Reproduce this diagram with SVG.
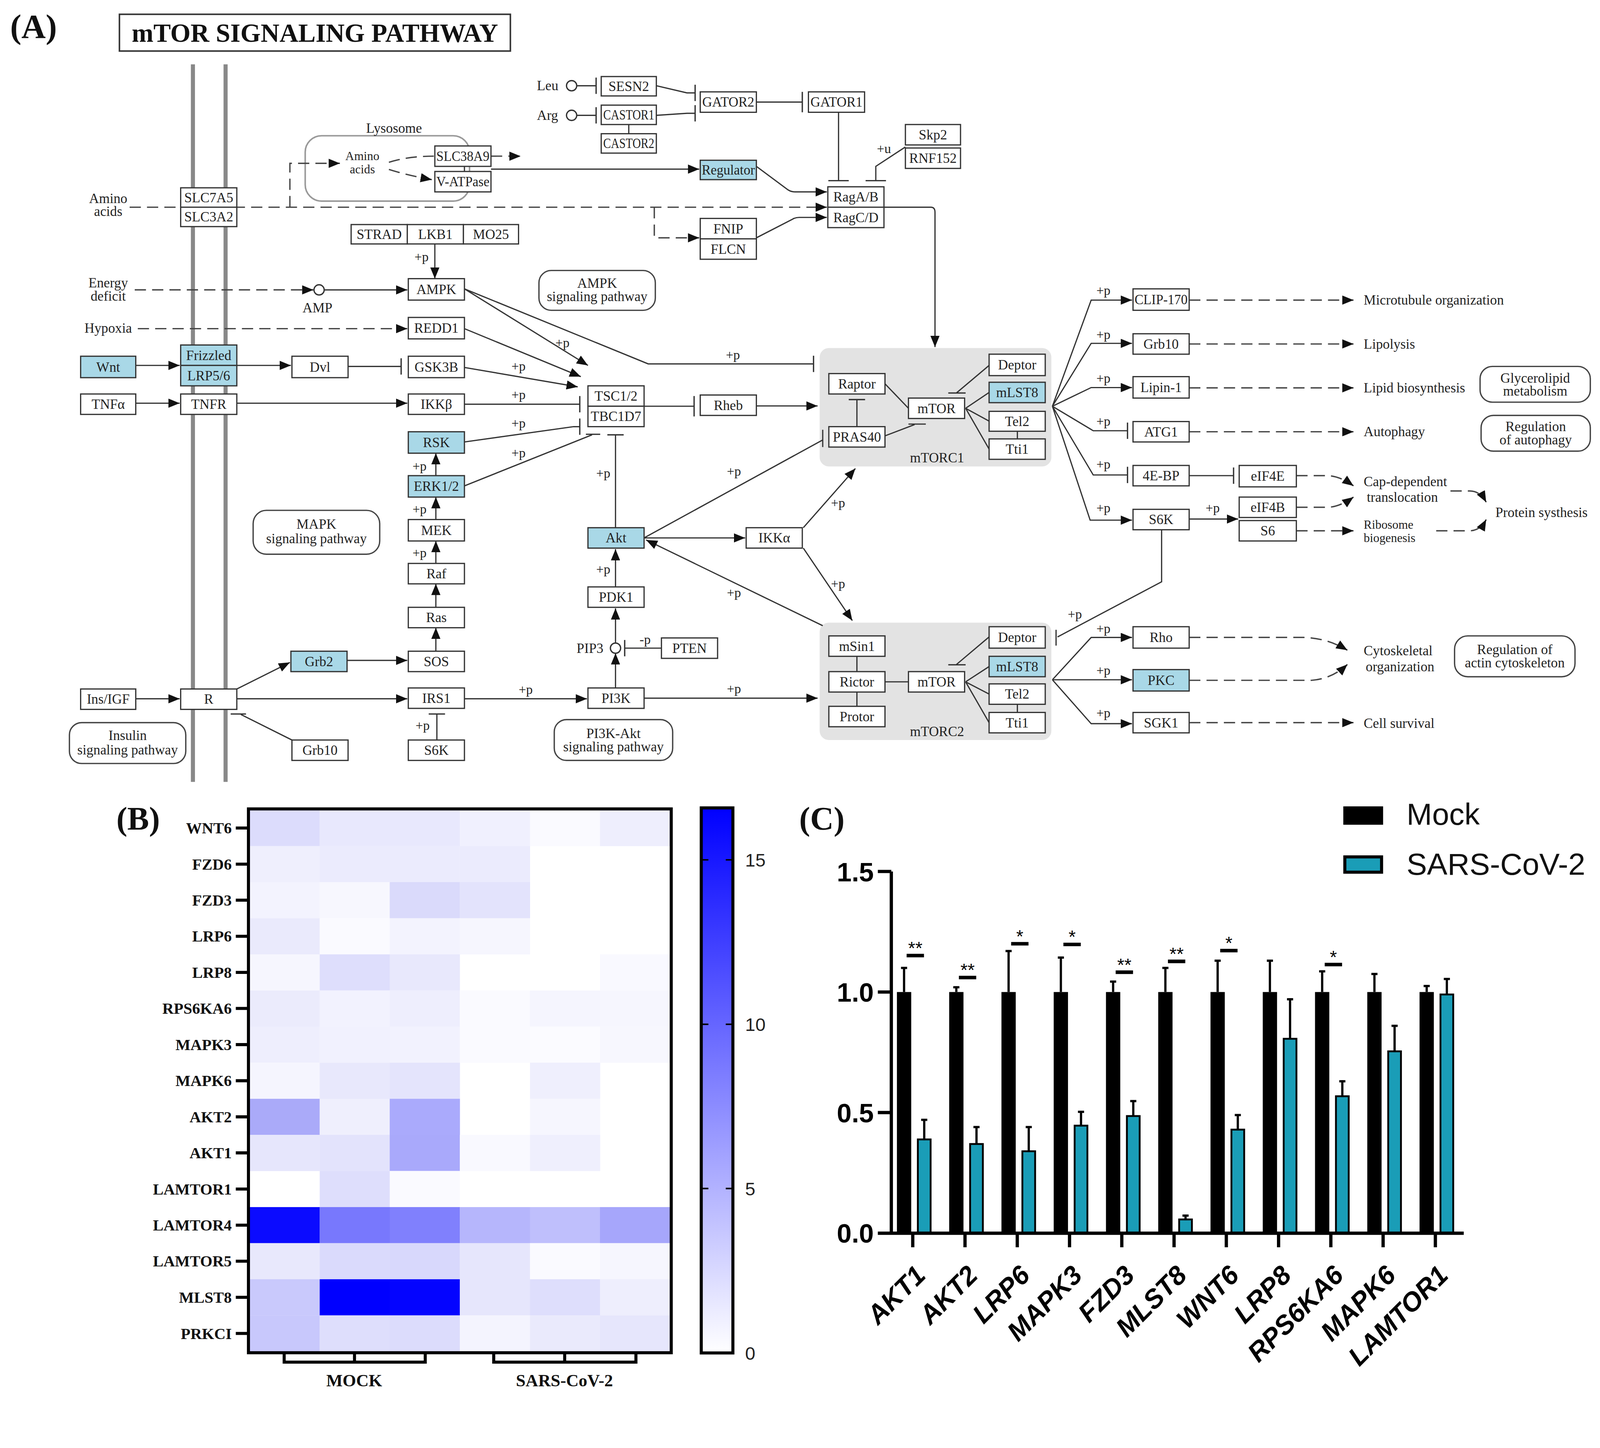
<svg xmlns="http://www.w3.org/2000/svg" width="4249" height="3708" viewBox="0 0 4249 3708">
<defs>
<style>
.b{fill:#fff;stroke:#333;stroke-width:1.2}
.hl{fill:#a9d8e7}
.cx{fill:#e3e3e3}
.pm{fill:#fff;stroke:#444;stroke-width:1.3}
.t{font-family:"Liberation Serif","Times New Roman",serif;font-size:13.5px;fill:#222;text-anchor:middle}
.s{text-anchor:start}
.p{font-size:13px}
.sm{font-size:12px}
.c{fill:none;stroke:#333;stroke-width:1.2}
.d{fill:none;stroke:#444;stroke-width:1.3;stroke-dasharray:11 6}
.a{marker-end:url(#arr)}
.i{marker-end:url(#bar)}
.iL{marker-end:url(#barL)}
.hb{font-family:"Liberation Serif","Times New Roman",serif;font-weight:bold;fill:#111}
.ax{fill:none;stroke:#000;stroke-width:3.2}
.sans{font-family:"Liberation Sans",Arial,sans-serif}
.mk{fill:#000}
.tl{fill:#1a9db7;stroke:#000;stroke-width:1.8}
.eb{fill:none;stroke:#000;stroke-width:2.2}
.sg{fill:none;stroke:#000;stroke-width:3.5}
</style>
<marker id="arr" markerUnits="userSpaceOnUse" markerWidth="11" markerHeight="9" viewBox="0 0 11 9" refX="11" refY="4.5" orient="auto"><path d="M0,0L11,4.5L0,9z" fill="#111"/></marker>
<marker id="bar" markerUnits="userSpaceOnUse" markerWidth="3" markerHeight="18" viewBox="-1.5 -9 3 18" refX="0" refY="0" orient="auto"><path d="M0,-8V8" stroke="#333" stroke-width="1.3"/></marker>
<marker id="barL" markerUnits="userSpaceOnUse" markerWidth="3" markerHeight="22" viewBox="-1.5 -11 3 22" refX="0" refY="0" orient="auto"><path d="M0,-10V10" stroke="#333" stroke-width="1.3"/></marker>
<linearGradient id="cbar" x1="0" y1="0" x2="0" y2="1"><stop offset="0" stop-color="#0000ff"/><stop offset="1" stop-color="#ffffff"/></linearGradient>
</defs>
<rect width="4249" height="3708" fill="#fff"/>
<g transform="scale(2.6131 2.6138)">
<text class="hb" x="10" y="37" font-size="33">(A)</text>
<g id="title"><rect x="117" y="14" width="383" height="36" fill="#fff" stroke="#333" stroke-width="1.5"/><text class="hb" x="308.5" y="41" font-size="25.5" text-anchor="middle">mTOR SIGNALING PATHWAY</text></g>
<g id="membrane" stroke="#888" stroke-width="4"><path d="M189,63V766M221,63V766"/></g>
<g id="lysosome"><rect x="299" y="133" width="161" height="64" rx="16" fill="none" stroke="#999" stroke-width="1.5"/><text class="t" x="386" y="130">Lysosome</text></g>
<g id="mTORC1"><rect class="cx" x="803" y="341" width="227" height="116" rx="9"/><text class="t" x="918" y="453">mTORC1</text></g>
<g id="mTORC2"><rect class="cx" x="803" y="610" width="227" height="115" rx="9"/><text class="t" x="918" y="721">mTORC2</text></g>
<g id="connectors">
<path class="d a" d="M127,203H810"/>
<path class="d a" d="M284,203V160H333"/>
<path class="d" d="M381,159Q400,153 425,153"/>
<path class="d a" d="M381,166Q400,172 423,176"/>
<path class="d a" d="M481,153H510"/>
<path class="c" d="M455,163V168"/>
<path class="c a" d="M481,165.7H685"/>
<path class="d a" d="M641,203V233H685"/>
<path class="c a" d="M741,163L772,186Q775,188 779,188H810"/>
<path class="c a" d="M741,233L776,215Q779,213 783,213H810"/>
<path class="c a" d="M866,203H912Q916,203 916,208V340"/>
<path class="c i" d="M565,84H584"/>
<path class="c i" d="M565,113H584"/>
<path class="c" d="M616,122V131"/>
<path class="c i" d="M643,84L673,91H681"/>
<path class="c i" d="M643,113L673,111H681"/>
<path class="c iL" d="M741,100H786"/>
<path class="c iL" d="M821.5,110V177"/>
<path class="c iL" d="M887,144L858,163V177"/>
<path class="c i" d="M455,283L635,356.5H797"/>
<path class="c a" d="M455,283L576,358"/>
<path class="c a" d="M455,322L569,369"/>
<path class="c a" d="M455,360L566,379"/>
<path class="c i" d="M455,396H568"/>
<path class="c i" d="M455,433L562,418H568"/>
<path class="c" d="M455,476L580,426M574,425.5H588"/>
<path class="c i" d="M603,517V426"/>
<path class="c iL" d="M631,398H680"/>
<path class="c a" d="M741,397.7H801"/>
<path class="c a" d="M133,358H176"/>
<path class="c a" d="M232,358H285"/>
<path class="c i" d="M341,359H393"/>
<path class="c a" d="M133,395H176"/>
<path class="c a" d="M232,395H399"/>
<path class="c a" d="M426,239V273"/>
<path class="d a" d="M132,284H307"/>
<circle cx="312.6" cy="284" r="5" fill="#fff" stroke="#333" stroke-width="1.3"/>
<path class="c a" d="M318,284H399"/>
<path class="d a" d="M135,322H399"/>
<path class="c a" d="M427,466V444"/>
<path class="c a" d="M427,509V487"/>
<path class="c a" d="M427,552V530"/>
<path class="c a" d="M427,595V572"/>
<path class="c a" d="M427,638V615"/>
<path class="c a" d="M340,647H399"/>
<path class="c a" d="M232,675L284,649"/>
<path class="c a" d="M133,684.6H176"/>
<path class="c a" d="M232,684.6H399"/>
<path class="c i" d="M428,725V699.5"/>
<path class="c" d="M286,725L236,700M226,699.5H241"/>
<path class="c a" d="M455,684.6H575"/>
<path class="c a" d="M603,674V640"/>
<circle cx="603" cy="635" r="5" fill="#fff" stroke="#333" stroke-width="1.3"/>
<path class="c a" d="M603,630V596"/>
<path class="c a" d="M603,575V538"/>
<path class="c i" d="M648,635H612"/>
<path class="c a" d="M631,527H730"/>
<path class="c" d="M631,527L806,431M806,421V438"/>
<path class="c a" d="M806,613L633,529"/>
<path class="c a" d="M787,517L838,459"/>
<path class="c a" d="M787,537L835,608"/>
<path class="c a" d="M631,684H801"/>
<path class="c" d="M867,376L890,400"/>
<path class="c" d="M867,427L896,416M890,415.5H907"/>
<path class="c i" d="M839.5,418V391.5"/>
<path class="c" d="M969,358L937,385M929,385H946"/>
<path class="c" d="M946,400L969,384.5M946,400L969,412.6M946,400L969,440"/>
<path class="c" d="M996.7,422.5V430"/>
<path class="c" d="M839.5,643V658M839.5,678V692M867,668H890"/>
<path class="c" d="M969,624L937,651M929,651.3H946"/>
<path class="c" d="M946,668L969,653M946,668L969,680M946,668L969,708"/>
<path class="c" d="M996.7,690V698"/>
<path class="c a" d="M1031,398L1069,294H1109"/>
<path class="c a" d="M1031,398L1069,336.4H1109"/>
<path class="c a" d="M1031,398L1069,379.7H1109"/>
<path class="c i" d="M1031,398L1071,422H1104.6"/>
<path class="c i" d="M1031,398L1071,465.3H1104.6"/>
<path class="c a" d="M1031,398L1068,509.6H1109"/>
<path class="c i" d="M1165,466H1208.5"/>
<path class="c a" d="M1165,508.5H1213"/>
<path class="c" d="M1138,519V570L1036,624M1034.6,617V632.5"/>
<path class="c a" d="M1031,666L1069,624.5H1109"/>
<path class="c a" d="M1031,666H1109"/>
<path class="c a" d="M1031,666L1069,709H1109"/>
<path class="d a" d="M1165,294H1326"/>
<path class="d a" d="M1165,337H1326"/>
<path class="d a" d="M1165,380H1326"/>
<path class="d a" d="M1165,423H1326"/>
<path class="d a" d="M1270,466H1300Q1312,466 1326,476"/>
<path class="d a" d="M1270,497H1300Q1312,497 1326,487"/>
<path class="d a" d="M1270,520H1326"/>
<path class="d a" d="M1421,481H1440Q1450,481 1456,492"/>
<path class="d a" d="M1407,520H1440Q1450,520 1456,509"/>
<path class="d a" d="M1165,624.5H1277Q1300,625 1320,637"/>
<path class="d a" d="M1165,666.5H1285Q1305,665 1320,651"/>
<path class="d a" d="M1165,708H1326"/>
</g>
<g id="n-slc7a5"><rect class="b" x="177" y="184" width="55" height="19"/><text class="t" x="204.5" y="198.1">SLC7A5</text></g>
<g id="n-slc3a2"><rect class="b" x="177" y="203" width="55" height="19"/><text class="t" x="204.5" y="217.1">SLC3A2</text></g>
<g id="n-sesn2"><rect class="b" x="589" y="75" width="54" height="19"/><text class="t" x="616" y="89.1">SESN2</text></g>
<g id="n-castor1"><rect class="b" x="589" y="103" width="54" height="19"/><text class="t" x="616" y="117.1" textLength="50" lengthAdjust="spacingAndGlyphs">CASTOR1</text></g>
<g id="n-castor2"><rect class="b" x="589" y="131" width="54" height="19"/><text class="t" x="616" y="145.1" textLength="50" lengthAdjust="spacingAndGlyphs">CASTOR2</text></g>
<g id="n-gator2"><rect class="b" x="686" y="90" width="55" height="20"/><text class="t" x="713.5" y="104.6" textLength="51" lengthAdjust="spacingAndGlyphs">GATOR2</text></g>
<g id="n-gator1"><rect class="b" x="792" y="90" width="55" height="20"/><text class="t" x="819.5" y="104.6" textLength="51" lengthAdjust="spacingAndGlyphs">GATOR1</text></g>
<g id="n-skp2"><rect class="b" x="887" y="122" width="54" height="20"/><text class="t" x="914" y="136.6">Skp2</text></g>
<g id="n-rnf152"><rect class="b" x="887" y="145" width="54" height="20"/><text class="t" x="914" y="159.6">RNF152</text></g>
<g id="n-regulator"><rect class="b hl" x="686" y="157" width="55" height="19"/><text class="t" x="713.5" y="171.1" textLength="52" lengthAdjust="spacingAndGlyphs">Regulator</text></g>
<g id="n-ragab"><rect class="b" x="811" y="183" width="55" height="20"/><text class="t" x="838.5" y="197.6">RagA/B</text></g>
<g id="n-ragcd"><rect class="b" x="811" y="203" width="55" height="20"/><text class="t" x="838.5" y="217.6">RagC/D</text></g>
<g id="n-fnip"><rect class="b" x="686" y="214" width="55" height="20"/><text class="t" x="713.5" y="228.6">FNIP</text></g>
<g id="n-flcn"><rect class="b" x="686" y="234" width="55" height="20"/><text class="t" x="713.5" y="248.6">FLCN</text></g>
<g id="n-slc38a9"><rect class="b" x="426" y="143" width="55" height="20"/><text class="t" x="453.5" y="157.6" textLength="52" lengthAdjust="spacingAndGlyphs">SLC38A9</text></g>
<g id="n-vatpase"><rect class="b" x="426" y="168" width="55" height="20"/><text class="t" x="453.5" y="182.6" textLength="52" lengthAdjust="spacingAndGlyphs">V-ATPase</text></g>
<g id="n-strad"><rect class="b" x="344" y="220" width="55" height="19"/><text class="t" x="371.5" y="234.1">STRAD</text></g>
<g id="n-lkb1"><rect class="b" x="399" y="220" width="55" height="19"/><text class="t" x="426.5" y="234.1">LKB1</text></g>
<g id="n-mo25"><rect class="b" x="454" y="220" width="54" height="19"/><text class="t" x="481" y="234.1">MO25</text></g>
<g id="n-ampk"><rect class="b" x="400" y="273" width="55" height="21"/><text class="t" x="427.5" y="288.1">AMPK</text></g>
<g id="n-redd1"><rect class="b" x="400" y="311" width="55" height="21"/><text class="t" x="427.5" y="326.1">REDD1</text></g>
<g id="n-wnt"><rect class="b hl" x="79" y="349" width="54" height="21"/><text class="t" x="106" y="364.1">Wnt</text></g>
<g id="n-frizzled"><rect class="b hl" x="177" y="338" width="55" height="20"/><text class="t" x="204.5" y="352.6">Frizzled</text></g>
<g id="n-lrp56"><rect class="b hl" x="177" y="358" width="55" height="20"/><text class="t" x="204.5" y="372.6">LRP5/6</text></g>
<g id="n-dvl"><rect class="b" x="286" y="349" width="55" height="21"/><text class="t" x="313.5" y="364.1">Dvl</text></g>
<g id="n-gsk3b"><rect class="b" x="400" y="349" width="55" height="21"/><text class="t" x="427.5" y="364.1">GSK3B</text></g>
<g id="n-tnfa"><rect class="b" x="79" y="386" width="54" height="20"/><text class="t" x="106" y="400.6">TNFα</text></g>
<g id="n-tnfr"><rect class="b" x="177" y="386" width="55" height="20"/><text class="t" x="204.5" y="400.6">TNFR</text></g>
<g id="n-ikkb"><rect class="b" x="400" y="386" width="55" height="20"/><text class="t" x="427.5" y="400.6">IKKβ</text></g>
<g id="n-rsk"><rect class="b hl" x="400" y="423" width="55" height="21"/><text class="t" x="427.5" y="438.1">RSK</text></g>
<g id="n-erk"><rect class="b hl" x="400" y="466" width="55" height="21"/><text class="t" x="427.5" y="481.1">ERK1/2</text></g>
<g id="n-mek"><rect class="b" x="400" y="509" width="55" height="21"/><text class="t" x="427.5" y="524.1">MEK</text></g>
<g id="n-raf"><rect class="b" x="400" y="552" width="55" height="20"/><text class="t" x="427.5" y="566.6">Raf</text></g>
<g id="n-ras"><rect class="b" x="400" y="595" width="55" height="20"/><text class="t" x="427.5" y="609.6">Ras</text></g>
<g id="n-sos"><rect class="b" x="400" y="638" width="55" height="20"/><text class="t" x="427.5" y="652.6">SOS</text></g>
<g id="n-grb2"><rect class="b hl" x="285" y="638" width="55" height="20"/><text class="t" x="312.5" y="652.6">Grb2</text></g>
<g id="n-insigf"><rect class="b" x="79" y="675" width="54" height="20"/><text class="t" x="106" y="689.6">Ins/IGF</text></g>
<g id="n-r"><rect class="b" x="177" y="675" width="55" height="20"/><text class="t" x="204.5" y="689.6">R</text></g>
<g id="n-irs1"><rect class="b" x="400" y="674" width="55" height="20"/><text class="t" x="427.5" y="688.6">IRS1</text></g>
<g id="n-s6k-low"><rect class="b" x="400" y="725" width="55" height="20"/><text class="t" x="427.5" y="739.6">S6K</text></g>
<g id="n-grb10-low"><rect class="b" x="286" y="725" width="55" height="20"/><text class="t" x="313.5" y="739.6">Grb10</text></g>
<g id="n-tsc12"><rect class="b" x="576" y="378" width="55" height="20"/><text class="t" x="603.5" y="392.6">TSC1/2</text></g>
<g id="n-tbc1d7"><rect class="b" x="576" y="398" width="55" height="20"/><text class="t" x="603.5" y="412.6">TBC1D7</text></g>
<g id="n-rheb"><rect class="b" x="686" y="387" width="55" height="20"/><text class="t" x="713.5" y="401.6">Rheb</text></g>
<g id="n-akt"><rect class="b hl" x="576" y="517" width="55" height="20"/><text class="t" x="603.5" y="531.6">Akt</text></g>
<g id="n-ikka"><rect class="b" x="731" y="517" width="55" height="20"/><text class="t" x="758.5" y="531.6">IKKα</text></g>
<g id="n-pdk1"><rect class="b" x="576" y="575" width="55" height="20"/><text class="t" x="603.5" y="589.6">PDK1</text></g>
<g id="n-pten"><rect class="b" x="648" y="625" width="55" height="20"/><text class="t" x="675.5" y="639.6">PTEN</text></g>
<g id="n-pi3k"><rect class="b" x="576" y="674" width="55" height="20"/><text class="t" x="603.5" y="688.6">PI3K</text></g>
<g id="n-raptor"><rect class="b" x="812" y="366" width="55" height="20"/><text class="t" x="839.5" y="380.6">Raptor</text></g>
<g id="n-pras40"><rect class="b" x="812" y="418" width="55" height="20"/><text class="t" x="839.5" y="432.6">PRAS40</text></g>
<g id="n-mtor1"><rect class="b" x="890" y="390" width="55" height="20"/><text class="t" x="917.5" y="404.6">mTOR</text></g>
<g id="n-deptor1"><rect class="b" x="969" y="347" width="55" height="21"/><text class="t" x="996.5" y="362.1">Deptor</text></g>
<g id="n-mlst8-1"><rect class="b hl" x="969" y="374.5" width="55" height="20"/><text class="t" x="996.5" y="389.1">mLST8</text></g>
<g id="n-tel2-1"><rect class="b" x="969" y="403" width="55" height="19.5"/><text class="t" x="996.5" y="417.3">Tel2</text></g>
<g id="n-tti1-1"><rect class="b" x="969" y="430" width="55" height="20"/><text class="t" x="996.5" y="444.6">Tti1</text></g>
<g id="n-msin1"><rect class="b" x="812" y="623" width="55" height="20"/><text class="t" x="839.5" y="637.6">mSin1</text></g>
<g id="n-rictor"><rect class="b" x="812" y="658" width="55" height="20"/><text class="t" x="839.5" y="672.6">Rictor</text></g>
<g id="n-protor"><rect class="b" x="812" y="692" width="55" height="20"/><text class="t" x="839.5" y="706.6">Protor</text></g>
<g id="n-mtor2"><rect class="b" x="890" y="658" width="55" height="20"/><text class="t" x="917.5" y="672.6">mTOR</text></g>
<g id="n-deptor2"><rect class="b" x="969" y="614" width="55" height="21"/><text class="t" x="996.5" y="629.1">Deptor</text></g>
<g id="n-mlst8-2"><rect class="b hl" x="969" y="643" width="55" height="20"/><text class="t" x="996.5" y="657.6">mLST8</text></g>
<g id="n-tel2-2"><rect class="b" x="969" y="670" width="55" height="20"/><text class="t" x="996.5" y="684.6">Tel2</text></g>
<g id="n-tti1-2"><rect class="b" x="969" y="698" width="55" height="20"/><text class="t" x="996.5" y="712.6">Tti1</text></g>
<g id="n-clip170"><rect class="b" x="1110" y="283" width="55" height="21"/><text class="t" x="1137.5" y="298.1" textLength="52" lengthAdjust="spacingAndGlyphs">CLIP-170</text></g>
<g id="n-grb10-r"><rect class="b" x="1110" y="327" width="55" height="20"/><text class="t" x="1137.5" y="341.6">Grb10</text></g>
<g id="n-lipin1"><rect class="b" x="1110" y="369" width="55" height="21"/><text class="t" x="1137.5" y="384.1">Lipin-1</text></g>
<g id="n-atg1"><rect class="b" x="1110" y="413" width="55" height="20"/><text class="t" x="1137.5" y="427.6">ATG1</text></g>
<g id="n-4ebp"><rect class="b" x="1110" y="456" width="55" height="20"/><text class="t" x="1137.5" y="470.6">4E-BP</text></g>
<g id="n-s6k-r"><rect class="b" x="1110" y="499" width="55" height="20"/><text class="t" x="1137.5" y="513.6">S6K</text></g>
<g id="n-eif4e"><rect class="b" x="1214" y="456" width="56" height="21"/><text class="t" x="1242" y="471.1">eIF4E</text></g>
<g id="n-eif4b"><rect class="b" x="1214" y="487" width="56" height="20"/><text class="t" x="1242" y="501.6">eIF4B</text></g>
<g id="n-s6"><rect class="b" x="1214" y="510" width="56" height="20"/><text class="t" x="1242" y="524.6">S6</text></g>
<g id="n-rho"><rect class="b" x="1110" y="614" width="55" height="21"/><text class="t" x="1137.5" y="629.1">Rho</text></g>
<g id="n-pkc"><rect class="b hl" x="1110" y="656" width="55" height="21"/><text class="t" x="1137.5" y="671.1">PKC</text></g>
<g id="n-sgk1"><rect class="b" x="1110" y="698" width="55" height="20"/><text class="t" x="1137.5" y="712.6">SGK1</text></g>
<g id="map-ampk"><rect class="pm" x="528" y="265" width="114" height="39" rx="12"/><text class="t" x="585" y="282">AMPK</text><text class="t" x="585" y="295">signaling pathway</text></g>
<g id="map-mapk"><rect class="pm" x="248" y="500" width="124" height="43" rx="13"/><text class="t" x="310" y="518">MAPK</text><text class="t" x="310" y="532">signaling pathway</text></g>
<g id="map-insulin"><rect class="pm" x="68" y="708" width="114" height="40" rx="12"/><text class="t" x="125" y="725">Insulin</text><text class="t" x="125" y="739">signaling pathway</text></g>
<g id="map-pi3k"><rect class="pm" x="543" y="705" width="116" height="40" rx="12"/><text class="t" x="601" y="723">PI3K-Akt</text><text class="t" x="601" y="736">signaling pathway</text></g>
<g id="map-glycero"><rect class="pm" x="1450" y="359" width="108" height="35" rx="12"/><text class="t" x="1504" y="375">Glycerolipid</text><text class="t" x="1504" y="387.5">metabolism</text></g>
<g id="map-autophagy"><rect class="pm" x="1451" y="407" width="107" height="35" rx="12"/><text class="t" x="1504.5" y="422.5">Regulation</text><text class="t" x="1504.5" y="435.5">of autophagy</text></g>
<g id="map-actin"><rect class="pm" x="1425" y="623" width="118" height="40" rx="13"/><text class="t" x="1484" y="641">Regulation of</text><text class="t" x="1484" y="654">actin cytoskeleton</text></g>
<g id="labels">
<text class="t" x="106" y="199">Amino</text><text class="t" x="106" y="211.5">acids</text>
<text class="t sm" x="355" y="157">Amino</text><text class="t sm" x="355" y="170">acids</text>
<text class="t s" x="526" y="88.5">Leu</text><text class="t s" x="526" y="117.5">Arg</text>
<circle cx="560" cy="84" r="5" fill="#fff" stroke="#333" stroke-width="1.3"/>
<circle cx="560" cy="113" r="5" fill="#fff" stroke="#333" stroke-width="1.3"/>
<text class="t" x="106" y="281.5">Energy</text><text class="t" x="106" y="294.5">deficit</text>
<text class="t" x="311" y="306">AMP</text>
<text class="t" x="106" y="326">Hypoxia</text>
<text class="t" x="578" y="639.5">PIP3</text>
<text class="t s" x="1336" y="298.5">Microtubule organization</text>
<text class="t s" x="1336" y="341.5">Lipolysis</text>
<text class="t s" x="1336" y="384.5">Lipid biosynthesis</text>
<text class="t s" x="1336" y="427.5">Autophagy</text>
<text class="t s" x="1336" y="476.5">Cap-dependent</text><text class="t s" x="1339" y="491.5">translocation</text>
<text class="t s sm" x="1336" y="518">Ribosome</text><text class="t s sm" x="1336" y="531">biogenesis</text>
<text class="t s" x="1465" y="506.5">Protein systhesis</text>
<text class="t s" x="1336" y="642">Cytoskeletal</text><text class="t s" x="1338" y="657.5">organization</text>
<text class="t s" x="1336" y="713">Cell survival</text>
<g class="t p">
<text x="413" y="256">+p</text><text x="718" y="352">+p</text><text x="551" y="340">+p</text>
<text x="508" y="363">+p</text><text x="508" y="391">+p</text><text x="508" y="419">+p</text><text x="508" y="448">+p</text>
<text x="411" y="461">+p</text><text x="411" y="503">+p</text><text x="411" y="546">+p</text>
<text x="515" y="680">+p</text><text x="414" y="715">+p</text>
<text x="591" y="468">+p</text><text x="719" y="466">+p</text><text x="821" y="497">+p</text>
<text x="591" y="562">+p</text><text x="719" y="585">+p</text><text x="821" y="576">+p</text><text x="719" y="679">+p</text>
<text x="1081" y="289">+p</text><text x="1081" y="332">+p</text><text x="1081" y="375">+p</text><text x="1081" y="417">+p</text><text x="1081" y="459">+p</text><text x="1081" y="502">+p</text>
<text x="1188" y="502">+p</text><text x="1053" y="606">+p</text>
<text x="1081" y="620">+p</text><text x="1081" y="661">+p</text><text x="1081" y="703">+p</text>
<text x="866" y="150">+u</text><text x="632" y="631">-p</text>
</g>
</g>
<text class="hb" x="114" y="813" font-size="32">(B)</text>
<g id="heatmap">
<rect x="244.5" y="793.5" width="412" height="530.6" fill="#fff"/>
<g id="hm-r0"><rect x="244.5" y="793.5" width="68.8" height="35.5" fill="#dcdcfc"/><rect x="313.2" y="793.5" width="68.8" height="35.5" fill="#e8e8fd"/><rect x="381.8" y="793.5" width="68.8" height="35.5" fill="#e8e8fd"/><rect x="450.5" y="793.5" width="68.8" height="35.5" fill="#f0f0fe"/><rect x="519.2" y="793.5" width="68.8" height="35.5" fill="#fafaff"/><rect x="587.8" y="793.5" width="68.8" height="35.5" fill="#eeeefd"/></g>
<g id="hm-r1"><rect x="244.5" y="828.9" width="68.8" height="35.5" fill="#efeffd"/><rect x="313.2" y="828.9" width="68.8" height="35.5" fill="#ebebfd"/><rect x="381.8" y="828.9" width="68.8" height="35.5" fill="#ebebfd"/><rect x="450.5" y="828.9" width="68.8" height="35.5" fill="#ebebfd"/></g>
<g id="hm-r2"><rect x="244.5" y="864.2" width="68.8" height="35.5" fill="#f3f3fe"/><rect x="313.2" y="864.2" width="68.8" height="35.5" fill="#f7f7fe"/><rect x="381.8" y="864.2" width="68.8" height="35.5" fill="#dadafb"/><rect x="450.5" y="864.2" width="68.8" height="35.5" fill="#e3e3fc"/></g>
<g id="hm-r3"><rect x="244.5" y="899.6" width="68.8" height="35.5" fill="#eaeafc"/><rect x="313.2" y="899.6" width="68.8" height="35.5" fill="#fafaff"/><rect x="381.8" y="899.6" width="68.8" height="35.5" fill="#f3f3fe"/><rect x="450.5" y="899.6" width="68.8" height="35.5" fill="#f6f6fe"/></g>
<g id="hm-r4"><rect x="244.5" y="935" width="68.8" height="35.5" fill="#f6f6fe"/><rect x="313.2" y="935" width="68.8" height="35.5" fill="#dedefc"/><rect x="381.8" y="935" width="68.8" height="35.5" fill="#e8e8fc"/><rect x="587.8" y="935" width="68.8" height="35.5" fill="#f9f9ff"/></g>
<g id="hm-r5"><rect x="244.5" y="970.4" width="68.8" height="35.5" fill="#ebebfc"/><rect x="313.2" y="970.4" width="68.8" height="35.5" fill="#f2f2fe"/><rect x="381.8" y="970.4" width="68.8" height="35.5" fill="#eeeefd"/><rect x="450.5" y="970.4" width="68.8" height="35.5" fill="#fafaff"/><rect x="519.2" y="970.4" width="68.8" height="35.5" fill="#f5f5fe"/><rect x="587.8" y="970.4" width="68.8" height="35.5" fill="#f6f6fe"/></g>
<g id="hm-r6"><rect x="244.5" y="1005.7" width="68.8" height="35.5" fill="#eeeefd"/><rect x="313.2" y="1005.7" width="68.8" height="35.5" fill="#f1f1fe"/><rect x="381.8" y="1005.7" width="68.8" height="35.5" fill="#f2f2fe"/><rect x="450.5" y="1005.7" width="68.8" height="35.5" fill="#fafaff"/><rect x="519.2" y="1005.7" width="68.8" height="35.5" fill="#fbfbff"/><rect x="587.8" y="1005.7" width="68.8" height="35.5" fill="#f7f7fe"/></g>
<g id="hm-r7"><rect x="244.5" y="1041.1" width="68.8" height="35.5" fill="#f5f5fe"/><rect x="313.2" y="1041.1" width="68.8" height="35.5" fill="#e8e8fc"/><rect x="381.8" y="1041.1" width="68.8" height="35.5" fill="#e4e4fc"/><rect x="519.2" y="1041.1" width="68.8" height="35.5" fill="#efeffd"/></g>
<g id="hm-r8"><rect x="244.5" y="1076.5" width="68.8" height="35.5" fill="#aaaaf9"/><rect x="313.2" y="1076.5" width="68.8" height="35.5" fill="#efeffd"/><rect x="381.8" y="1076.5" width="68.8" height="35.5" fill="#aaaafc"/><rect x="519.2" y="1076.5" width="68.8" height="35.5" fill="#f6f6fe"/></g>
<g id="hm-r9"><rect x="244.5" y="1111.8" width="68.8" height="35.5" fill="#e6e6fc"/><rect x="313.2" y="1111.8" width="68.8" height="35.5" fill="#e3e3fc"/><rect x="381.8" y="1111.8" width="68.8" height="35.5" fill="#a9a9fb"/><rect x="450.5" y="1111.8" width="68.8" height="35.5" fill="#f9f9ff"/><rect x="519.2" y="1111.8" width="68.8" height="35.5" fill="#efeffd"/></g>
<g id="hm-r10"><rect x="313.2" y="1147.2" width="68.8" height="35.5" fill="#dedefc"/><rect x="381.8" y="1147.2" width="68.8" height="35.5" fill="#fafaff"/></g>
<g id="hm-r11"><rect x="244.5" y="1182.6" width="68.8" height="35.5" fill="#0b0bff"/><rect x="313.2" y="1182.6" width="68.8" height="35.5" fill="#7878fd"/><rect x="381.8" y="1182.6" width="68.8" height="35.5" fill="#8080fd"/><rect x="450.5" y="1182.6" width="68.8" height="35.5" fill="#b6b6fc"/><rect x="519.2" y="1182.6" width="68.8" height="35.5" fill="#bfbffc"/><rect x="587.8" y="1182.6" width="68.8" height="35.5" fill="#a6a6fb"/></g>
<g id="hm-r12"><rect x="244.5" y="1217.9" width="68.8" height="35.5" fill="#e8e8fc"/><rect x="313.2" y="1217.9" width="68.8" height="35.5" fill="#dadafc"/><rect x="381.8" y="1217.9" width="68.8" height="35.5" fill="#d8d8fc"/><rect x="450.5" y="1217.9" width="68.8" height="35.5" fill="#e6e6fc"/><rect x="519.2" y="1217.9" width="68.8" height="35.5" fill="#fafaff"/><rect x="587.8" y="1217.9" width="68.8" height="35.5" fill="#f6f6fe"/></g>
<g id="hm-r13"><rect x="244.5" y="1253.3" width="68.8" height="35.5" fill="#c9c9fc"/><rect x="313.2" y="1253.3" width="68.8" height="35.5" fill="#0000ff"/><rect x="381.8" y="1253.3" width="68.8" height="35.5" fill="#0404ff"/><rect x="450.5" y="1253.3" width="68.8" height="35.5" fill="#e6e6fc"/><rect x="519.2" y="1253.3" width="68.8" height="35.5" fill="#dedefc"/><rect x="587.8" y="1253.3" width="68.8" height="35.5" fill="#eeeefd"/></g>
<g id="hm-r14"><rect x="244.5" y="1288.7" width="68.8" height="35.4" fill="#c8c8fc"/><rect x="313.2" y="1288.7" width="68.8" height="35.4" fill="#dedefc"/><rect x="381.8" y="1288.7" width="68.8" height="35.4" fill="#dcdcfc"/><rect x="450.5" y="1288.7" width="68.8" height="35.4" fill="#f4f4fe"/><rect x="519.2" y="1288.7" width="68.8" height="35.4" fill="#eaeafc"/><rect x="587.8" y="1288.7" width="68.8" height="35.4" fill="#e6e6fc"/></g>
<rect x="243.4" y="792.5" width="414.2" height="532.8" fill="none" stroke="#000" stroke-width="3"/>
<path d="M231,811.2H244M231,846.6H244M231,881.9H244M231,917.3H244M231,952.7H244M231,988H244M231,1023.4H244M231,1058.8H244M231,1094.2H244M231,1129.5H244M231,1164.9H244M231,1200.3H244M231,1235.6H244M231,1271H244M231,1306.4H244" stroke="#000" stroke-width="3"/>
<g class="hb" font-size="15.5" text-anchor="end">
<text x="227" y="816.5">WNT6</text><text x="227" y="851.9">FZD6</text><text x="227" y="887.2">FZD3</text><text x="227" y="922.6">LRP6</text><text x="227" y="958">LRP8</text><text x="227" y="993.3">RPS6KA6</text><text x="227" y="1028.7">MAPK3</text><text x="227" y="1064.1">MAPK6</text><text x="227" y="1099.5">AKT2</text><text x="227" y="1134.8">AKT1</text><text x="227" y="1170.2">LAMTOR1</text><text x="227" y="1205.6">LAMTOR4</text><text x="227" y="1240.9">LAMTOR5</text><text x="227" y="1276.3">MLST8</text><text x="227" y="1311.7">PRKCI</text>
</g>
<path d="M278.4,1326V1334.5H416.6V1326M347.3,1334.5V1326M483.7,1326V1334.5H623V1326M553.2,1334.5V1326" fill="none" stroke="#000" stroke-width="3"/>
<g class="hb" font-size="17" text-anchor="middle"><text x="347" y="1358">MOCK</text><text x="553" y="1358">SARS-CoV-2</text></g>
</g>
<g id="colorbar">
<rect x="687" y="791.5" width="31" height="534" fill="url(#cbar)" stroke="#000" stroke-width="3"/>
<path d="M687,842.4H694M711,842.4H718M687,1003.5H694M711,1003.5H718M687,1164.4H694M711,1164.4H718" stroke="#000" stroke-width="1.5"/>
<g class="sans" font-size="18" fill="#222"><text x="730" y="849">15</text><text x="730" y="1010">10</text><text x="730" y="1171">5</text><text x="730" y="1332">0</text></g>
</g>
<text class="hb" x="783" y="813" font-size="32">(C)</text>
<g id="legend">
<rect x="1316" y="790" width="39" height="18" fill="#000"/>
<rect x="1317.5" y="839.5" width="36" height="15" fill="#1a9db7" stroke="#000" stroke-width="3"/>
<g class="sans" font-size="30" fill="#111"><text x="1378" y="808">Mock</text><text x="1378" y="857">SARS-CoV-2</text></g>
</g>
<g id="barchart">
<g id="mock-bars" class="mk">
<rect x="878.7" y="971.9" width="14" height="236.3"/><rect x="929.9" y="971.9" width="14" height="236.3"/><rect x="981.1" y="971.9" width="14" height="236.3"/><rect x="1032.3" y="971.9" width="14" height="236.3"/><rect x="1083.5" y="971.9" width="14" height="236.3"/><rect x="1134.7" y="971.9" width="14" height="236.3"/><rect x="1185.9" y="971.9" width="14" height="236.3"/><rect x="1237.1" y="971.9" width="14" height="236.3"/><rect x="1288.3" y="971.9" width="14" height="236.3"/><rect x="1339.5" y="971.9" width="14" height="236.3"/><rect x="1390.7" y="971.9" width="14" height="236.3"/>
</g>
<g id="sars-bars" class="tl">
<rect x="899.2" y="1116.3" width="12.5" height="91.9"/><rect x="950.4" y="1120.8" width="12.5" height="87.4"/><rect x="1001.6" y="1127.9" width="12.5" height="80.3"/><rect x="1052.8" y="1102.8" width="12.5" height="105.4"/><rect x="1104" y="1093.4" width="12.5" height="114.8"/><rect x="1155.2" y="1194.7" width="12.5" height="13.5"/><rect x="1206.4" y="1106.7" width="12.5" height="101.5"/><rect x="1257.6" y="1017.7" width="12.5" height="190.5"/><rect x="1308.8" y="1074" width="12.5" height="134.2"/><rect x="1360" y="1030" width="12.5" height="178.2"/><rect x="1411.2" y="974.3" width="12.5" height="233.9"/>
</g>
<path class="eb" d="M885.7,971.9V948.3M882.7,948.3H888.7M936.9,971.9V967.2M933.9,967.2H939.9M988.1,971.9V931.7M985.1,931.7H991.1M1039.3,971.9V938.1M1036.3,938.1H1042.3M1090.5,971.9V961.7M1087.5,961.7H1093.5M1141.7,971.9V948.3M1138.7,948.3H1144.7M1192.9,971.9V941.2M1189.9,941.2H1195.9M1244.1,971.9V941.2M1241.1,941.2H1247.1M1295.3,971.9V951.6M1292.3,951.6H1298.3M1346.5,971.9V954.2M1343.5,954.2H1349.5M1397.7,971.9V966M1394.7,966H1400.7"/>
<path class="eb" d="M905.45,1116.3V1097.1M902.45,1097.1H908.45M956.65,1120.8V1104.2M953.65,1104.2H959.65M1007.85,1127.9V1104.2M1004.85,1104.2H1010.85M1059.05,1102.8V1089.3M1056.05,1089.3H1062.05M1110.25,1093.4V1078.7M1107.25,1078.7H1113.25M1161.45,1194.7V1190.9M1158.45,1190.9H1164.45M1212.65,1106.7V1092.4M1209.65,1092.4H1215.65M1263.85,1017.7V979M1260.85,979H1266.85M1315.05,1074V1059.3M1312.05,1059.3H1318.05M1366.25,1030V1005M1363.25,1005H1369.25M1417.45,974.3V959.1M1414.45,959.1H1420.45"/>
<path class="sg" d="M888.2,936.2H905.2M939.4,957.7H956.4M990.6,924.6H1007.6M1041.8,925.3H1058.8M1093,952.5H1110M1144.2,941.9H1161.2M1195.4,931.3H1212.4M1297.8,945H1314.8"/>
<g class="sans" font-size="18" fill="#000" text-anchor="middle">
<text x="896.7" y="935">**</text><text x="947.9" y="956.5">**</text><text x="999.1" y="923.4">*</text><text x="1050.3" y="924.1">*</text><text x="1101.5" y="951.3">**</text><text x="1152.7" y="940.7">**</text><text x="1203.9" y="930.1">*</text><text x="1306.3" y="943.8">*</text>
</g>
<path class="ax" d="M873.2,853.8V1209.8M873.2,1208.2H1434M860,853.8H873.2M860,971.9H873.2M860,1090H873.2M860,1208.2H873.2M894.2,1208.2V1222M945.4,1208.2V1222M996.6,1208.2V1222M1047.8,1208.2V1222M1099,1208.2V1222M1150.2,1208.2V1222M1201.4,1208.2V1222M1252.6,1208.2V1222M1303.8,1208.2V1222M1355,1208.2V1222M1406.2,1208.2V1222"/>
<g class="sans" font-size="26" font-weight="bold" fill="#000" text-anchor="end">
<text x="856" y="863.5">1.5</text><text x="856" y="981.5">1.0</text><text x="856" y="1099.5">0.5</text><text x="856" y="1217.5">0.0</text>
</g>
<g class="sans" font-size="26" font-weight="bold" font-style="italic" fill="#000" text-anchor="end">
<text transform="translate(908.2 1251) rotate(-45)">AKT1</text>
<text transform="translate(959.4 1251) rotate(-45)">AKT2</text>
<text transform="translate(1010.6 1251) rotate(-45)">LRP6</text>
<text transform="translate(1061.8 1251) rotate(-45)">MAPK3</text>
<text transform="translate(1113 1251) rotate(-45)">FZD3</text>
<text transform="translate(1164.2 1251) rotate(-45)">MLST8</text>
<text transform="translate(1215.4 1251) rotate(-45)">WNT6</text>
<text transform="translate(1266.6 1251) rotate(-45)">LRP8</text>
<text transform="translate(1317.8 1251) rotate(-45)">RPS6KA6</text>
<text transform="translate(1369 1251) rotate(-45)">MAPK6</text>
<text transform="translate(1420.2 1251) rotate(-45)">LAMTOR1</text>
</g>
</g>
</g>
</svg>
